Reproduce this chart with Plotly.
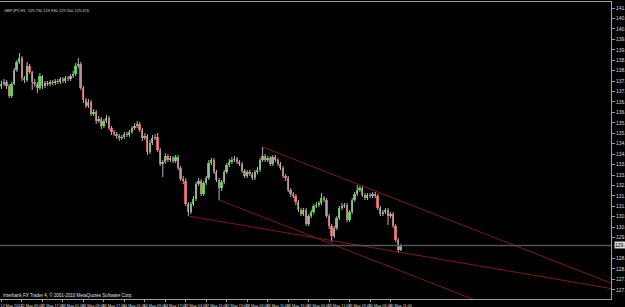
import plotly.graph_objects as go

# ---------------- data (GBPJPY, H1) ----------------
opens = [
    137.45, 137.55, 137.65, 137.45, 136.95, 137.55, 138.25, 138.65, 138.85, 137.85,
    137.75, 138.45, 138.15, 137.65, 137.55, 137.35, 137.95, 137.45, 137.60, 137.55,
    137.65, 137.60, 137.70, 137.65, 137.80, 137.70, 137.85, 137.80, 137.95, 138.05,
    138.45, 138.55, 137.35, 136.75, 136.45, 136.65, 136.05, 136.15, 135.70, 135.80,
    135.45, 135.70, 135.85, 135.35, 135.15, 135.05, 134.95, 134.85, 134.90, 135.05,
    135.00, 135.15, 135.35, 135.45, 135.55, 135.25, 134.85, 134.95, 134.15, 134.60,
    134.85, 134.90, 134.25, 133.55, 133.65, 133.95, 133.75, 133.85, 133.70, 133.90,
    133.35, 132.80, 132.70, 131.55, 131.15, 131.55, 131.80, 132.55, 132.70, 132.05,
    132.60, 132.85, 133.60, 133.75, 133.15, 132.75, 132.35, 132.65, 133.15, 133.50,
    133.65, 133.75, 133.80, 133.65, 133.55, 133.20, 132.95, 133.15, 133.05, 132.85,
    133.15, 133.25, 133.75, 133.95, 133.75, 133.85, 133.55, 133.90, 133.75, 133.55,
    133.35, 132.95, 132.85, 132.25, 132.05, 131.95, 131.65, 131.25, 131.05, 131.25,
    130.55, 130.95, 131.15, 131.45, 131.50, 131.60, 131.85, 131.75, 130.95, 130.45,
    129.95, 130.35, 130.85, 131.35, 131.45, 131.50, 130.75, 131.15, 131.75, 132.05,
    132.25, 132.35, 132.00, 131.85, 132.00, 131.95, 132.05, 131.95, 131.35, 131.05,
    131.15, 131.25, 130.95, 131.05, 130.45, 129.75, 129.25,
]
closes = [
    137.55, 137.65, 137.45, 136.95, 137.55, 138.25, 138.65, 138.85, 137.85, 137.75,
    138.45, 138.15, 137.65, 137.55, 137.35, 137.95, 137.45, 137.60, 137.55, 137.65,
    137.60, 137.70, 137.65, 137.80, 137.70, 137.85, 137.80, 137.95, 138.05, 138.45,
    138.55, 137.35, 136.75, 136.45, 136.65, 136.05, 136.15, 135.70, 135.80, 135.45,
    135.70, 135.85, 135.35, 135.15, 135.05, 134.95, 134.85, 134.90, 135.05, 135.00,
    135.15, 135.35, 135.45, 135.55, 135.25, 134.85, 134.95, 134.15, 134.60, 134.85,
    134.90, 134.25, 133.55, 133.65, 133.95, 133.75, 133.85, 133.70, 133.90, 133.35,
    132.80, 132.70, 131.55, 131.15, 131.55, 131.80, 132.55, 132.70, 132.05, 132.60,
    132.85, 133.60, 133.75, 133.15, 132.75, 132.35, 132.65, 133.15, 133.50, 133.65,
    133.75, 133.80, 133.65, 133.55, 133.20, 132.95, 133.15, 133.05, 132.85, 133.15,
    133.25, 133.75, 133.95, 133.75, 133.85, 133.55, 133.90, 133.75, 133.55, 133.35,
    132.95, 132.85, 132.25, 132.05, 131.95, 131.65, 131.25, 131.05, 131.25, 130.55,
    130.95, 131.15, 131.45, 131.50, 131.60, 131.85, 131.75, 130.95, 130.45, 129.95,
    130.35, 130.85, 131.35, 131.45, 131.50, 130.75, 131.15, 131.75, 132.05, 132.25,
    132.35, 132.00, 131.85, 132.00, 131.95, 132.05, 131.95, 131.35, 131.05, 131.15,
    131.25, 130.95, 131.05, 130.45, 129.75, 129.25, 129.476,
]
highs = [
    137.70, 137.80, 137.75, 137.55, 137.65, 138.35, 138.75, 139.10, 138.95, 137.95,
    138.65, 138.55, 138.20, 137.80, 137.65, 138.10, 138.00, 137.70, 137.70, 137.75,
    137.75, 137.80, 137.80, 137.90, 137.90, 137.95, 137.95, 138.05, 138.20, 138.60,
    138.85, 138.65, 137.45, 136.85, 136.80, 136.75, 136.30, 136.25, 135.95, 135.90,
    135.80, 136.00, 135.95, 135.45, 135.25, 135.15, 135.05, 135.00, 135.15, 135.15,
    135.25, 135.45, 135.60, 135.70, 135.65, 135.35, 135.10, 135.05, 134.75, 135.00,
    135.05, 135.10, 134.35, 133.75, 134.10, 134.05, 133.95, 133.95, 134.00, 134.00,
    133.45, 132.95, 132.85, 131.65, 131.65, 131.95, 132.65, 132.85, 132.80, 132.70,
    132.95, 133.75, 133.85, 133.85, 133.25, 132.85, 132.75, 133.25, 133.60, 133.80,
    133.90, 133.95, 133.90, 133.75, 133.65, 133.30, 133.25, 133.25, 133.15, 133.25,
    133.40, 133.85, 134.40, 134.05, 133.95, 133.95, 134.00, 134.00, 133.85, 133.65,
    133.45, 133.05, 132.95, 132.35, 132.15, 132.05, 131.75, 131.35, 131.35, 131.35,
    131.05, 131.25, 131.55, 131.65, 131.70, 132.10, 131.95, 131.85, 131.05, 130.55,
    130.45, 130.95, 131.45, 131.60, 131.60, 131.60, 131.25, 131.85, 132.15, 132.50,
    132.45, 132.45, 132.10, 132.10, 132.10, 132.15, 132.15, 132.05, 131.45, 131.25,
    131.35, 131.35, 131.15, 131.15, 130.55, 129.85, 129.55,
]
lows = [
    137.30, 137.45, 137.30, 136.85, 136.85, 137.50, 138.15, 138.55, 137.70, 137.60,
    137.65, 138.05, 137.25, 137.40, 137.10, 137.25, 137.30, 137.35, 137.45, 137.45,
    137.50, 137.50, 137.55, 137.55, 137.60, 137.60, 137.70, 137.70, 137.85, 137.95,
    138.35, 137.25, 136.60, 136.35, 136.35, 135.95, 135.95, 135.55, 135.60, 135.30,
    135.35, 135.60, 135.25, 135.00, 134.95, 134.80, 134.70, 134.75, 134.80, 134.90,
    134.90, 135.05, 135.25, 135.35, 135.15, 134.70, 134.75, 134.00, 134.05, 134.50,
    134.75, 134.15, 133.45, 132.90, 133.55, 133.65, 133.65, 133.60, 133.60, 133.25,
    132.70, 132.55, 131.45, 130.95, 131.05, 131.45, 131.70, 132.45, 131.95, 131.95,
    132.50, 132.75, 133.50, 133.05, 132.65, 131.75, 132.20, 132.55, 133.05, 133.40,
    133.55, 133.65, 133.55, 133.45, 133.10, 132.85, 132.85, 132.95, 132.75, 132.75,
    133.05, 133.15, 133.65, 133.65, 133.65, 133.45, 133.45, 133.65, 133.45, 133.25,
    132.85, 132.70, 132.15, 131.90, 131.85, 131.50, 131.15, 130.95, 130.95, 130.45,
    130.45, 130.85, 131.05, 131.35, 131.40, 131.50, 131.65, 130.85, 130.30, 129.65,
    129.85, 130.25, 130.75, 131.25, 131.35, 130.65, 130.65, 131.05, 131.65, 131.95,
    132.15, 131.90, 131.75, 131.75, 131.85, 131.85, 131.85, 131.25, 130.95, 130.95,
    131.05, 130.50, 130.85, 130.35, 129.65, 129.10, 129.20,
]

# x-axis labels: one every 8 H1 bars
label_bars = [0, 8, 16, 24, 32, 40, 48, 56, 64, 72, 80, 88, 96, 104, 112, 120, 128, 136, 144, 152]
label_texts = [
    "12 May 2010", "12 May 09:00", "12 May 17:00", "13 May 01:00", "13 May 09:00",
    "13 May 17:00", "14 May 01:00", "14 May 09:00", "14 May 17:00", "17 May 03:00",
    "17 May 11:00", "17 May 19:00", "18 May 03:00", "18 May 11:00", "18 May 19:00",
    "19 May 03:00", "19 May 11:00", "19 May 19:00", "20 May 03:00", "20 May 11:00",
]

# price scale labels
price_ticks = [
    141.350, 140.830, 140.305, 139.785, 139.260, 138.740, 138.220, 137.695, 137.175,
    136.655, 136.130, 135.610, 135.090, 134.565, 134.045, 133.520, 133.000, 132.480,
    131.955, 131.435, 130.915, 130.390, 129.870, 128.825, 128.305, 127.785,
    127.260, 126.740,
]

# trend lines: (bar, price) anchor pairs; drawn as rays to the right
trend_lines = [
    ((102, 134.40), (139, 132.55)),
    ((73, 130.95), (129, 129.72)),
    ((85, 131.75), (125, 129.75)),
]

symbol_text = "GBPJPY,H1  129.730 129.930 129.550 129.476"
copyright_text = "Interbank FX Trader 4, © 2001-2010 MetaQuotes Software Corp."

# ---------------- figure ----------------
bars = list(range(len(closes)))
bull_col = "#45c845"
bear_col = "#d25858"
wick_col = "#b4b4b4"
fnt = "Liberation Sans Narrow, Liberation Sans, DejaVu Sans"

fig = go.Figure()

# wicks
wx, wy = [], []
for i, h, l in zip(bars, highs, lows):
    wx += [i, i, None]
    wy += [l, h, None]
fig.add_trace(go.Scatter(x=wx, y=wy, mode="lines", line=dict(color=wick_col, width=1),
                         hoverinfo="skip", showlegend=False))

# bodies
base = [min(o, c) for o, c in zip(opens, closes)]
height = [max(abs(c - o), 0.03) for o, c in zip(opens, closes)]
cols = [bull_col if c >= o else bear_col for o, c in zip(opens, closes)]
fig.add_trace(go.Bar(x=bars, y=height, base=base, marker=dict(color=cols, line=dict(width=0)),
                     width=0.72, showlegend=False))

# trend lines (rays)
x_end = 245
for (b1, p1), (b2, p2) in trend_lines:
    slope = (p2 - p1) / (b2 - b1)
    fig.add_trace(go.Scatter(x=[b1, x_end], y=[p1, p1 + slope * (x_end - b1)], mode="lines",
                             line=dict(color="#7e1a1a", width=1), hoverinfo="skip",
                             showlegend=False))

last_price = closes[-1]
fig.add_hline(y=last_price, line=dict(color="#52525e", width=1.5))

fig.add_annotation(xref="paper", yref="y", x=1.0, y=last_price, xanchor="left", yanchor="middle",
                   text=f"{last_price:.3f}", showarrow=False, xshift=3,
                   font=dict(family=fnt, size=5, color="#000000"), bgcolor="#d8d8d8",
                   borderpad=0)
fig.add_annotation(xref="paper", yref="paper", x=0.0, y=1.0, xanchor="left", yanchor="top",
                   text=symbol_text, showarrow=False, xshift=2, yshift=-4,
                   font=dict(family=fnt, size=4, color="#d8d8d8"))
fig.add_annotation(xref="paper", yref="paper", x=0.0, y=0.0, xanchor="left", yanchor="bottom",
                   text=copyright_text, showarrow=False, xshift=1, yshift=-1,
                   font=dict(family=fnt, size=4.5, color="#e0e0e0"))

fig.update_layout(
    width=625, height=307,
    margin=dict(l=0, r=14, t=2, b=8, autoexpand=False),
    paper_bgcolor="#000000", plot_bgcolor="#000000",
    bargap=0, showlegend=False,
    xaxis=dict(range=[-0.59, 238.1], showgrid=False, zeroline=False, automargin=False,
               tickmode="array", tickvals=label_bars, ticktext=label_texts, tickangle=0,
               ticks="outside", ticklen=2, tickcolor="#a0a0a0",
               tickfont=dict(family=fnt, size=3.8, color="#d8d8d8"),
               ticklabelshift=10, ticklabelstandoff=0,
               showline=True, linecolor="#a0a0a0", linewidth=1, mirror=True),
    yaxis=dict(range=[126.80, 141.65], side="right", showgrid=False, zeroline=False,
               automargin=False,
               tickmode="array", tickvals=price_ticks,
               ticktext=[f"{v:.3f}" for v in price_ticks],
               ticks="outside", ticklen=3, tickcolor="#a0a0a0",
               tickfont=dict(family=fnt, size=5, color="#d8d8d8"),
               showline=True, linecolor="#a0a0a0", linewidth=1, mirror=True),
)

fig.write_html("out.html")
